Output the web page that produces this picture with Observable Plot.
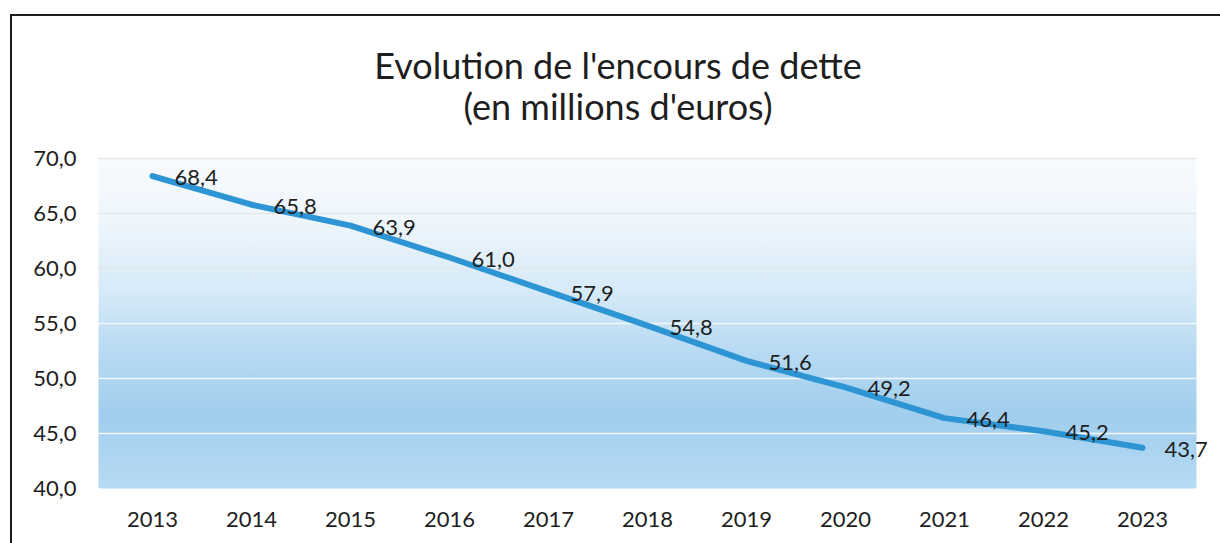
<!DOCTYPE html>
<html>
<head>
<meta charset="utf-8">
<script src="https://cdn.jsdelivr.net/npm/d3@7"></script>
<script src="https://cdn.jsdelivr.net/npm/@observablehq/plot@0.6"></script>
<style>
  html, body { margin: 0; padding: 0; background: #fff; width: 1220px; height: 543px; overflow: hidden; }
  #frame { position: absolute; left: 10px; top: 14px; width: 1230px; height: 560px; border-left: 2px solid #1e1e1e; border-top: 2px solid #1e1e1e; box-sizing: border-box; }
  #title { position: absolute; left: 0; top: 45px; width: 1236px; text-align: center; font-family: Lato, "Open Sans", sans-serif; font-size: 36px; line-height: 41px; color: #1e1e1e; }
  #chart { position: absolute; left: 0; top: 140px; }
  svg { font-family: Lato, "Open Sans", sans-serif; overflow: visible; }
</style>
</head>
<body>
<div id="frame"></div>
<div id="title">Evolution de l'encours de dette<br>(en millions d'euros)</div>
<div id="chart"></div>
<script>
const years = ["2013","2014","2015","2016","2017","2018","2019","2020","2021","2022","2023"];
const debt = [68.4, 65.8, 63.9, 61.0, 57.9, 54.8, 51.6, 49.2, 46.4, 45.2, 43.7];
const yTicks = [40, 45, 50, 55, 60, 65, 70];

const data = years.map((y, i) => ({year: y, value: debt[i]}));
const fmt = v => v.toFixed(1).replace(".", ",");

const chart = Plot.plot({
  width: 1220,
  height: 403,
  marginLeft: 98,
  marginRight: 24,
  marginTop: 18,
  marginBottom: 55,
  style: {fontSize: "22px", color: "#1e1e1e", background: "transparent"},
  x: {type: "point", domain: years, padding: 0.5, label: null},
  y: {domain: [40, 70], label: null},
  marks: [
    Plot.frame({fill: "url(#bgGrad)", stroke: null}),
    Plot.ruleY(yTicks.filter(t => t > 40), {stroke: d => d >= 60 ? "a" : "b", strokeWidth: 1.5}),
    Plot.axisY({ticks: yTicks, tickFormat: fmt, tickSize: 0, tickPadding: 22, fontSize: 22, fill: "#1e1e1e"}),
    Plot.axisX({tickSize: 0, tickPadding: 23, fontSize: 22, fill: "#1e1e1e"}),
    Plot.line(data, {x: "year", y: "value", stroke: "#2d95d3", strokeWidth: 6, strokeLinecap: "round", strokeLinejoin: "round"}),
    Plot.text(data, {x: "year", y: "value", text: d => fmt(d.value), textAnchor: "start", dx: 22, dy: 2, fontSize: 22, fill: "#1e1e1e"})
  ],
  color: {domain: ["a", "b"], range: ["#e3e6ea", "#f4f8fc"]}
});

const ns = "http://www.w3.org/2000/svg";
const defs = document.createElementNS(ns, "defs");
defs.innerHTML = `<linearGradient id="bgGrad" x1="0" y1="0" x2="0" y2="1">
  <stop offset="0" stop-color="#f8fbfe"/>
  <stop offset="0.2" stop-color="#edf5fb"/>
  <stop offset="0.4" stop-color="#d6eaf8"/>
  <stop offset="0.6" stop-color="#b5d9f2"/>
  <stop offset="0.78" stop-color="#a1ceee"/>
  <stop offset="1" stop-color="#b6dbf4"/>
</linearGradient>`;
chart.insertBefore(defs, chart.firstChild);
document.getElementById("chart").appendChild(chart);
</script>
</body>
</html>
